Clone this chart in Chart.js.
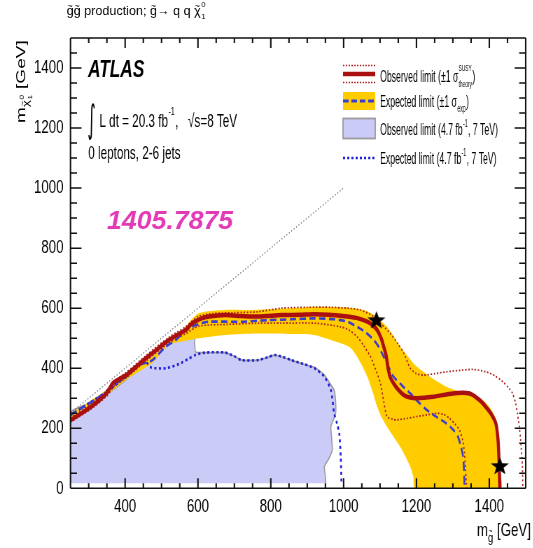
<!DOCTYPE html>
<html><head><meta charset="utf-8">
<script src="https://cdn.jsdelivr.net/npm/chart.js@4.4.1/dist/chart.umd.min.js"></script>
<style>
html,body{margin:0;padding:0;background:#fff;overflow:hidden}
#wrap{width:533px;height:548px;overflow:hidden;position:relative;background:#fff}
#c{display:block;transform:scaleX(0.7);transform-origin:0 0}
</style></head><body>
<div id="wrap"><canvas id="c" width="761" height="548" style="width:761px;height:548px"></canvas></div>
<script>
// ---------- data (GeV) ----------
const xTickLabels = [400, 600, 800, 1000, 1200, 1400];
const yTickLabels = [0, 200, 400, 600, 800, 1000, 1200, 1400];

// Observed limit 8 TeV (thick red)
const obsX = [250,280,312,335,350,366,385,403,430,457,490,520,545,566,580,593,610,630,675,720,766,830,880,920,960,1010,1040,1065,1080,1092,1103,1110,1117,1122,1128,1137,1150,1165,1180,1201,1246,1300,1330,1350,1373,1390,1405,1418,1424,1427,1429];
const obsY = [227,250,277,300,318,350,365,377,405,433,465,494,512,527,545,556,566,572,577,574,572,577,578,580,578,572,566,555,543,527,500,472,440,400,370,350,328,311,303,300,305,316,318,314,294,272,248,216,161,83,0];

// Observed +1 sigma theory (dotted)
const obsUpX = [250,312,350,370,403,457,520,566,600,640,700,765,829,900,965,1010,1046,1083,1105,1128,1150,1165,1183,1200,1219,1250,1282,1320,1355,1391,1415,1437,1455,1464,1472,1477,1483,1486,1491,1492];
const obsUpY = [235,285,326,356,386,442,503,538,572,582,585,588,600,603,603,600,594,572,545,516,480,450,400,382,377,382,388,393,396,388,375,355,332,316,285,250,200,161,72,0];

// Observed -1 sigma theory (dotted)
const obsDnX = [250,312,350,370,403,457,520,566,602,680,765,829,920,992,1015,1037,1055,1074,1088,1101,1110,1119,1135,1146,1175,1201,1230,1255,1275,1291,1305,1318,1327,1332,1335,1337,1338];
const obsDnY = [220,269,308,340,368,424,484,515,540,546,550,550,550,538,527,505,475,438,395,350,290,239,230,228,233,239,245,250,246,233,215,194,160,117,60,17,0];

// Expected limit 8 TeV (blue dashed)
const expX = [250,290,330,365,403,440,475,510,539,560,584,610,630,720,790,856,920,974,1010,1037,1060,1083,1097,1110,1123,1137,1160,1183,1205,1228,1255,1282,1300,1314,1322,1328,1331,1332];
const expY = [244,275,305,340,372,410,427,470,494,520,538,550,555,555,560,563,566,563,555,538,520,494,470,438,405,372,343,316,288,261,238,216,196,172,140,105,50,0];

// Expected +-1 sigma band (yellow): upper and lower edges
const bandUpX = [250,330,403,475,539,570,602,675,738,856,920,980,1029,1060,1083,1100,1119,1138,1155,1175,1192,1215,1237,1260,1282,1310,1337,1360,1382,1400,1409,1418,1423,1428,1430,1432];
const bandUpY = [250,312,380,440,503,545,583,594,594,600,605,604,600,592,577,560,538,505,472,442,416,392,372,354,338,325,316,306,294,272,255,232,205,139,60,0];
const bandDnX = [250,330,403,475,520,560,602,675,765,870,920,950,992,1019,1037,1052,1065,1080,1092,1105,1119,1137,1155,1170,1183,1191,1196];
const bandDnY = [232,293,362,418,478,490,500,511,516,514,511,500,483,468,438,405,372,320,272,235,205,172,139,105,72,40,0];

// Observed limit 4.7 fb-1, 7 TeV (lavender area outline)
const obs7X = [250,250,300,357,400,453,500,540,566,580,590,593,620,675,700,720,765,790,811,856,885,920,947,965,974,978,978,965,967,969,960,947,950,951];
const obs7Y = [17,252,282,320,360,415,462,500,520,527,528,455,452,452,440,427,427,436,444,427,415,403,378,345,327,290,250,205,170,128,100,72,40,17];

// Expected limit 4.7 fb-1, 7 TeV (blue dotted)
const exp7X = [250,300,357,400,440,453,460,464,472,480,512,548,575,593,620,675,700,720,765,790,811,835,856,890,920,947,965,974,982,988,992,994];
const exp7Y = [244,283,327,372,415,428,418,411,402,400,400,414,432,444,452,452,440,427,427,436,444,437,427,414,400,372,327,250,215,183,105,17];

// Kinematic boundary (dotted diagonal)
const diagX = [250, 1000];
const diagY = [250, 1000];

// Stars (best-limit markers)
const starX = [1090, 1429];
const starY = [562, 76];

// ---------- helpers ----------
const S = 0.7; // horizontal compression of the page
const SANS = '"Liberation Sans", Arial, Helvetica, sans-serif';
const zip = (xs, ys) => xs.map((x, i) => ({x, y: ys[i]}));
const polygon = (ux, uy, dx, dy) => zip(ux, uy).concat(zip(dx, dy).reverse());

const C_RED = '#aa1010', C_THEO = '#a81c1c', C_YEL = '#ffcc00', C_LAV = '#cbcbf7',
      C_LAVB = '#9a9a9a', C_EXP = '#3c3cd2', C_EXP7 = '#1f1fd6';

function makeStar() {
  const c = document.createElement('canvas');
  const R = 9.5, r = 3.9, sx = 1 / S;
  c.width = Math.ceil(2 * R * sx) + 2; c.height = Math.ceil(2 * R) + 2;
  const g = c.getContext('2d');
  const cx = c.width / 2, cy = c.height / 2 + 1;
  g.beginPath();
  for (let i = 0; i < 10; i++) {
    const a = -Math.PI / 2 + i * Math.PI / 5, rr = i % 2 ? r : R;
    g.lineTo(cx + rr * Math.cos(a) * sx, cy + rr * Math.sin(a));
  }
  g.closePath(); g.fillStyle = '#000'; g.fill();
  return c;
}

function fnt(size, style) { return `${style || ''} ${size}px ${SANS}`; }
function richInner(ctx, parts, x, y, size, style) {
  let cx = x;
  for (let p of parts) {
    if (typeof p === 'string') p = {t: p};
    if (p.grp) { cx += richInner(ctx, p.grp, cx, y + size * p.dy, size * (p.scale || 0.72), style); continue; }
    ctx.font = fnt(size, style);
    const w = ctx.measureText(p.t).width;
    ctx.fillText(p.t, cx, y);
    if (p.tilde) {
      ctx.font = fnt(size * 0.7, style);
      const tw = ctx.measureText('~').width;
      ctx.fillText('~', cx + (w - tw) / 2 + (p.tx || 0) * size, y - size * (p.ty ?? 0.5));
    }
    let ex = 0;
    if (p.sup || p.sub) {
      const s2 = size * (p.ss || 0.62), gap = size * 0.04;
      ctx.font = fnt(s2, style);
      let ws = 0, wb = 0;
      if (p.sup) { ws = ctx.measureText(p.sup).width; ctx.fillText(p.sup, cx + w + gap, y - size * (p.supDy ?? 0.45)); }
      if (p.sub) { wb = ctx.measureText(p.sub).width; ctx.fillText(p.sub, cx + w + gap, y + size * (p.subDy ?? 0.22)); }
      ex = gap + Math.max(ws, wb) + gap;
    }
    cx += w + ex;
  }
  return cx - x;
}
function rich(ctx, parts, x, y, size, style, kx, color) {
  ctx.save(); ctx.translate(x, y); ctx.scale(kx || 1, 1);
  ctx.fillStyle = color || '#000'; ctx.textBaseline = 'alphabetic'; ctx.textAlign = 'left';
  const w = richInner(ctx, parts, 0, 0, size, style);
  ctx.restore(); return w * (kx || 1);
}
function measureRich(ctx, parts, size, style) {
  ctx.save(); ctx.globalAlpha = 0; const w = richInner(ctx, parts, 0, -1000, size, style); ctx.restore(); return w;
}

const framePlugin = {
  id: 'frameTicks',
  afterDatasetsDraw(chart) {
    const {ctx, chartArea: a, scales: {x, y}} = chart;
    ctx.save(); ctx.strokeStyle = '#111'; ctx.setLineDash([]);
    ctx.lineWidth = 2.1; ctx.beginPath();
    for (const t of x.ticks) {
      const px = x.getPixelForValue(t.value), L = t.value % 200 === 0 ? 10 : 5;
      ctx.moveTo(px, a.bottom); ctx.lineTo(px, a.bottom - L);
      ctx.moveTo(px, a.top); ctx.lineTo(px, a.top + L);
    }
    ctx.moveTo(a.left, a.top); ctx.lineTo(a.left, a.bottom);
    ctx.moveTo(a.right, a.top); ctx.lineTo(a.right, a.bottom);
    ctx.stroke();
    ctx.lineWidth = 1.5; ctx.beginPath();
    for (const t of y.ticks) {
      const py = y.getPixelForValue(t.value), L = (t.value % 200 === 0 ? 11 : 6.5) / S;
      ctx.moveTo(a.left, py); ctx.lineTo(a.left + L, py);
      ctx.moveTo(a.right, py); ctx.lineTo(a.right - L, py);
    }
    ctx.moveTo(a.left, a.top); ctx.lineTo(a.right, a.top);
    ctx.moveTo(a.left, a.bottom); ctx.lineTo(a.right, a.bottom);
    ctx.stroke();
    ctx.restore();
  },
  afterDraw(chart) {
    const ctx = chart.ctx;
    // top title (not compressed)
    rich(ctx, [{t:'g',tilde:true},{t:'g',tilde:true},' production; ',{t:'g',tilde:true},'\u2192 q q ',{t:'\u03c7',tilde:true,sup:'0',sub:'1',supDy:0.62,subDy:0.3}], 66.7 / S, 15, 12.6, '', 1 / S);
    // ATLAS
    rich(ctx, ['ATLAS'], 125.7, 76.5, 23.5, 'italic bold', 1.05);
    // integral line
    ctx.save(); ctx.translate(125, 132); ctx.scale(0.6, 1); ctx.font = '38px "DejaVu Sans", sans-serif'; ctx.fillStyle = '#000'; ctx.fillText('\u222b', 0, 0); ctx.restore();
    rich(ctx, ['L dt = 20.3 fb', {t:'', sup:'-1', supDy:0.62, ss:0.6}, ','], 141.9, 127, 19, '', 0.88);
    rich(ctx, ['\u221as=8 TeV'], 268.6, 127, 19, '', 0.88);
    rich(ctx, ['0 leptons, 2-6 jets'], 126, 158.5, 19, '', 0.88);
    // arXiv number (not compressed)
    rich(ctx, ['1405.7875'], 107 / S, 229, 25, 'italic bold', 1.525, '#e33ab6');

    // legend
    const lx0 = 490, lx1 = 536, tx = 543;
    ctx.save();
    ctx.strokeStyle = C_THEO; ctx.lineWidth = 1.6; ctx.setLineDash([2, 2]);
    ctx.beginPath(); ctx.moveTo(lx0, 65.5); ctx.lineTo(lx1, 65.5); ctx.moveTo(lx0, 82.5); ctx.lineTo(lx1, 82.5); ctx.stroke();
    ctx.setLineDash([]); ctx.strokeStyle = C_RED; ctx.lineWidth = 4.5;
    ctx.beginPath(); ctx.moveTo(lx0, 74); ctx.lineTo(lx1, 74); ctx.stroke();
    ctx.fillStyle = C_YEL; ctx.fillRect(lx0, 92, lx1 - lx0, 18);
    ctx.strokeStyle = C_EXP; ctx.lineWidth = 3; ctx.setLineDash([8, 4]);
    ctx.beginPath(); ctx.moveTo(lx0, 101); ctx.lineTo(lx1, 101); ctx.stroke();
    ctx.setLineDash([]);
    ctx.fillStyle = C_LAV; ctx.fillRect(lx0, 118.5, lx1 - lx0, 20);
    ctx.strokeStyle = C_LAVB; ctx.lineWidth = 1.8; ctx.strokeRect(lx0, 118.5, lx1 - lx0, 20);
    ctx.strokeStyle = C_EXP7; ctx.lineWidth = 2.5; ctx.setLineDash([3, 3]);
    ctx.beginPath(); ctx.moveTo(lx0, 158); ctx.lineTo(lx1, 158); ctx.stroke();
    ctx.restore();
    const LF = 17, LK = 0.73;
    rich(ctx, ['Observed limit (\u00b11 ', {t:'\u03c3', sup:'SUSY', sub:'theory', supDy:0.62, subDy:0.3, ss:0.55}, ')'], tx, 81.5, LF, '', LK);
    rich(ctx, ['Expected limit (\u00b11 ', {t:'\u03c3', sub:'exp', subDy:0.28, ss:0.6}, ')'], tx, 107, LF, '', LK);
    rich(ctx, ['Observed limit (4.7 fb', {t:'', sup:'-1', supDy:0.48, ss:0.6}, ', 7 TeV)'], tx, 135, LF, '', LK);
    rich(ctx, ['Expected limit (4.7 fb', {t:'', sup:'-1', supDy:0.48, ss:0.6}, ', 7 TeV)'], tx, 164, LF, '', LK);

    // axis titles
    const xt = ['m', {grp:[{t:'g', tilde:true, ty:0.55}], dy:0.3, scale:0.72}, ' [GeV]'];
    const wx = measureRich(ctx, xt, 19, '');
    rich(ctx, xt, 758.5 - wx, 536, 19, '', 1);
    ctx.save(); ctx.translate(35.7, 123); ctx.rotate(-Math.PI / 2);
    rich(ctx, ['m', {grp:[{t:'\u03c7', tilde:true, sup:'0', sub:'1', supDy:0.55, subDy:0.3}], dy:0.3, scale:0.72}, ' [GeV]'], 0, 0, 19, '', 1);
    ctx.restore();
  }
};

const starImg = makeStar();
const lineDs = (label, pts, color, width, dash, order, extra) => Object.assign({
  label, data: pts, borderColor: color, borderWidth: width, borderDash: dash || [],
  pointRadius: 0, pointHoverRadius: 0, fill: false, tension: 0.25, order
}, extra || {});

new Chart(document.getElementById('c'), {
  type: 'line',
  data: {
    datasets: [
      lineDs('Observed limit (4.7 fb-1, 7 TeV)', zip(obs7X, obs7Y), C_LAVB, 1.6, [], 10, {fill: 'shape', backgroundColor: C_LAV, tension: 0.15}),
      lineDs('Expected limit (\u00b11 \u03c3exp) band', polygon(bandUpX, bandUpY, bandDnX, bandDnY), 'rgba(0,0,0,0)', 0, [], 9, {fill: 'shape', backgroundColor: C_YEL}),
      lineDs('kinematic limit', zip(diagX, diagY), '#666', 1.1, [1.5, 2.5], 8, {tension: 0}),
      lineDs('Expected limit (4.7 fb-1, 7 TeV)', zip(exp7X, exp7Y), C_EXP7, 2.6, [3, 3.5], 7),
      lineDs('Observed -1 sigma theory', zip(obsDnX, obsDnY), C_THEO, 1.7, [2, 2.5], 6),
      lineDs('Observed +1 sigma theory', zip(obsUpX, obsUpY), C_THEO, 1.7, [2, 2.5], 6),
      lineDs('Expected limit', zip(expX, expY), C_EXP, 2.6, [9, 5], 5),
      lineDs('Observed limit', zip(obsX, obsY), C_RED, 4.5, [], 4),
      {label: 'stars', data: zip(starX, starY), showLine: false, pointStyle: starImg, pointRadius: 9, pointHoverRadius: 9, order: 1}
    ]
  },
  options: {
    responsive: false, animation: false, devicePixelRatio: 1,
    events: [],
    layout: {padding: {top: 38, right: 3.9, bottom: 29.7, left: 0}},
    plugins: {legend: {display: false}, tooltip: {enabled: false}, title: {display: false}},
    scales: {
      x: {
        type: 'linear', min: 250, max: 1500,
        grid: {display: false, drawTicks: false}, border: {display: false},
        ticks: {stepSize: 50, autoSkip: false, maxRotation: 0, minRotation: 0, padding: 7, color: '#000',
          font: {family: SANS, size: 19},
          callback: v => xTickLabels.includes(v) ? String(v) : ''},
        afterFit: s => { s.height = 30; }
      },
      y: {
        type: 'linear', min: 0, max: 1500,
        grid: {display: false, drawTicks: false}, border: {display: false},
        ticks: {stepSize: 50, autoSkip: false, padding: 10, color: '#000',
          font: {family: SANS, size: 19},
          callback: v => yTickLabels.includes(v) ? String(v) : ''},
        afterFit: s => { s.width = 100.7; }
      }
    }
  },
  plugins: [framePlugin]
});
</script></body></html>
